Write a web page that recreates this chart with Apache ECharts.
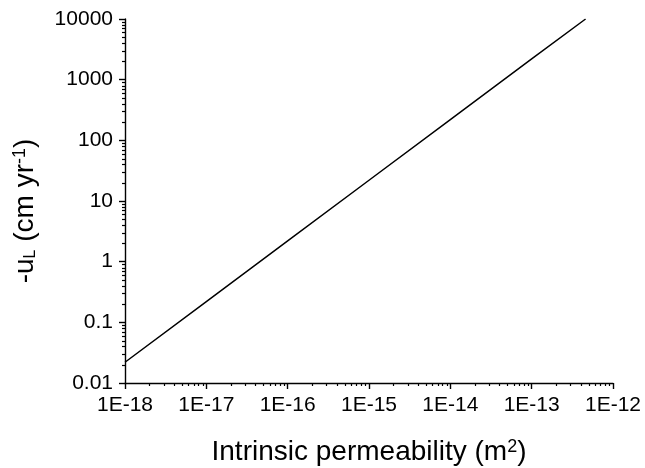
<!DOCTYPE html>
<html>
<head>
<meta charset="utf-8">
<script src="https://cdn.jsdelivr.net/npm/echarts@6/dist/echarts.min.js"></script>
<style>
  html, body { margin: 0; padding: 0; background: #fff; }
  #chart { width: 645px; height: 468px; }
</style>
</head>
<body>
<div id="chart"></div>
<script>
// Liquid velocity versus intrinsic permeability (log-log)
var permeability = [1e-18, 1e-17, 1e-16, 1e-15, 1e-14, 1e-13, 4.6e-13];
var velocity     = [0.022, 0.22, 2.2, 22, 220, 2200, 10000];

var xMin = 1e-18, xMax = 1e-12;
var yMin = 0.01, yMax = 10000;
var minorMultipliers = [2, 3, 4, 5, 6, 7, 8, 9];

var FONT = 'Arial, "Liberation Sans", sans-serif';
var INK = '#000';

function expOf(v) { return Math.round(Math.log10(v)); }

function xLabel(v) { return '1E' + expOf(v); }
function yLabel(v) {
  var e = expOf(v);
  return e < 0 ? Math.pow(10, e).toFixed(-e) : String(Math.pow(10, e));
}

var chart = echarts.init(document.getElementById('chart'), null, { renderer: 'canvas' });

var points = permeability.map(function (k, i) { return [k, velocity[i]]; });

chart.setOption({
  animation: false,
  backgroundColor: '#fff',
  grid: { left: 125, right: 32, top: 19, bottom: 85, containLabel: false, outerBoundsMode: 'none' },
  xAxis: {
    type: 'log',
    logBase: 10,
    min: xMin,
    max: xMax,
    interval: 1,
    name: 'Intrinsic permeability (m{sup|2})',
    nameLocation: 'middle',
    nameGap: 55,
    nameTextStyle: {
      fontFamily: FONT, fontSize: 28, color: INK,
      rich: { sup: { fontFamily: FONT, fontSize: 18, color: INK, verticalAlign: 'top' } }
    },
    axisLine: { show: true, lineStyle: { color: INK, width: 1.4 } },
    axisTick: { show: true, inside: false, length: 6, lineStyle: { color: INK, width: 1.4 } },
    axisLabel: { fontFamily: FONT, fontSize: 21, color: INK, margin: 12, formatter: xLabel },
    splitLine: { show: false }
  },
  yAxis: {
    type: 'log',
    logBase: 10,
    min: yMin,
    max: yMax,
    interval: 1,
    name: '-u{sub|L} (cm yr{sup|-1})',
    nameLocation: 'middle',
    nameGap: 86,
    nameTextStyle: {
      fontFamily: FONT, fontSize: 28, color: INK,
      padding: [0, 20, 0, 0],
      rich: {
        sub: { fontFamily: FONT, fontSize: 16, color: INK, verticalAlign: 'bottom', padding: [10, 0, 0, 0] },
        sup: { fontFamily: FONT, fontSize: 18, color: INK, verticalAlign: 'top' }
      }
    },
    axisLine: { show: true, lineStyle: { color: INK, width: 1.4 } },
    axisTick: { show: true, inside: false, length: 6, lineStyle: { color: INK, width: 1.4 } },
    axisLabel: { fontFamily: FONT, fontSize: 21, color: INK, margin: 12, formatter: yLabel },
    splitLine: { show: false }
  },
  series: [{
    type: 'line',
    data: points,
    showSymbol: false,
    symbol: 'none',
    lineStyle: { color: INK, width: 1.5 },
    clip: true
  }]
});

// Minor ticks at 2..9 within each decade, placed through the axis scales
function minorValues(lo, hi) {
  var out = [];
  for (var e = expOf(lo); e < expOf(hi); e++) {
    minorMultipliers.forEach(function (m) { out.push(m * Math.pow(10, e)); });
  }
  return out;
}

var axisX = chart.convertToPixel({ xAxisIndex: 0 }, xMin);
var axisY = chart.convertToPixel({ yAxisIndex: 0 }, yMin);
var minorLen = 3;
var ticks = [];

minorValues(xMin, xMax).forEach(function (v) {
  var px = Math.round(chart.convertToPixel({ xAxisIndex: 0 }, v)) + 0.5;
  ticks.push({
    type: 'line', silent: true,
    shape: { x1: px, y1: axisY, x2: px, y2: axisY + minorLen },
    style: { stroke: INK, lineWidth: 1.2 }
  });
});
minorValues(yMin, yMax).forEach(function (v) {
  var py = Math.round(chart.convertToPixel({ yAxisIndex: 0 }, v)) + 0.5;
  ticks.push({
    type: 'line', silent: true,
    shape: { x1: axisX - minorLen, y1: py, x2: axisX, y2: py },
    style: { stroke: INK, lineWidth: 1.2 }
  });
});

chart.setOption({ graphic: ticks });
</script>
</body>
</html>
